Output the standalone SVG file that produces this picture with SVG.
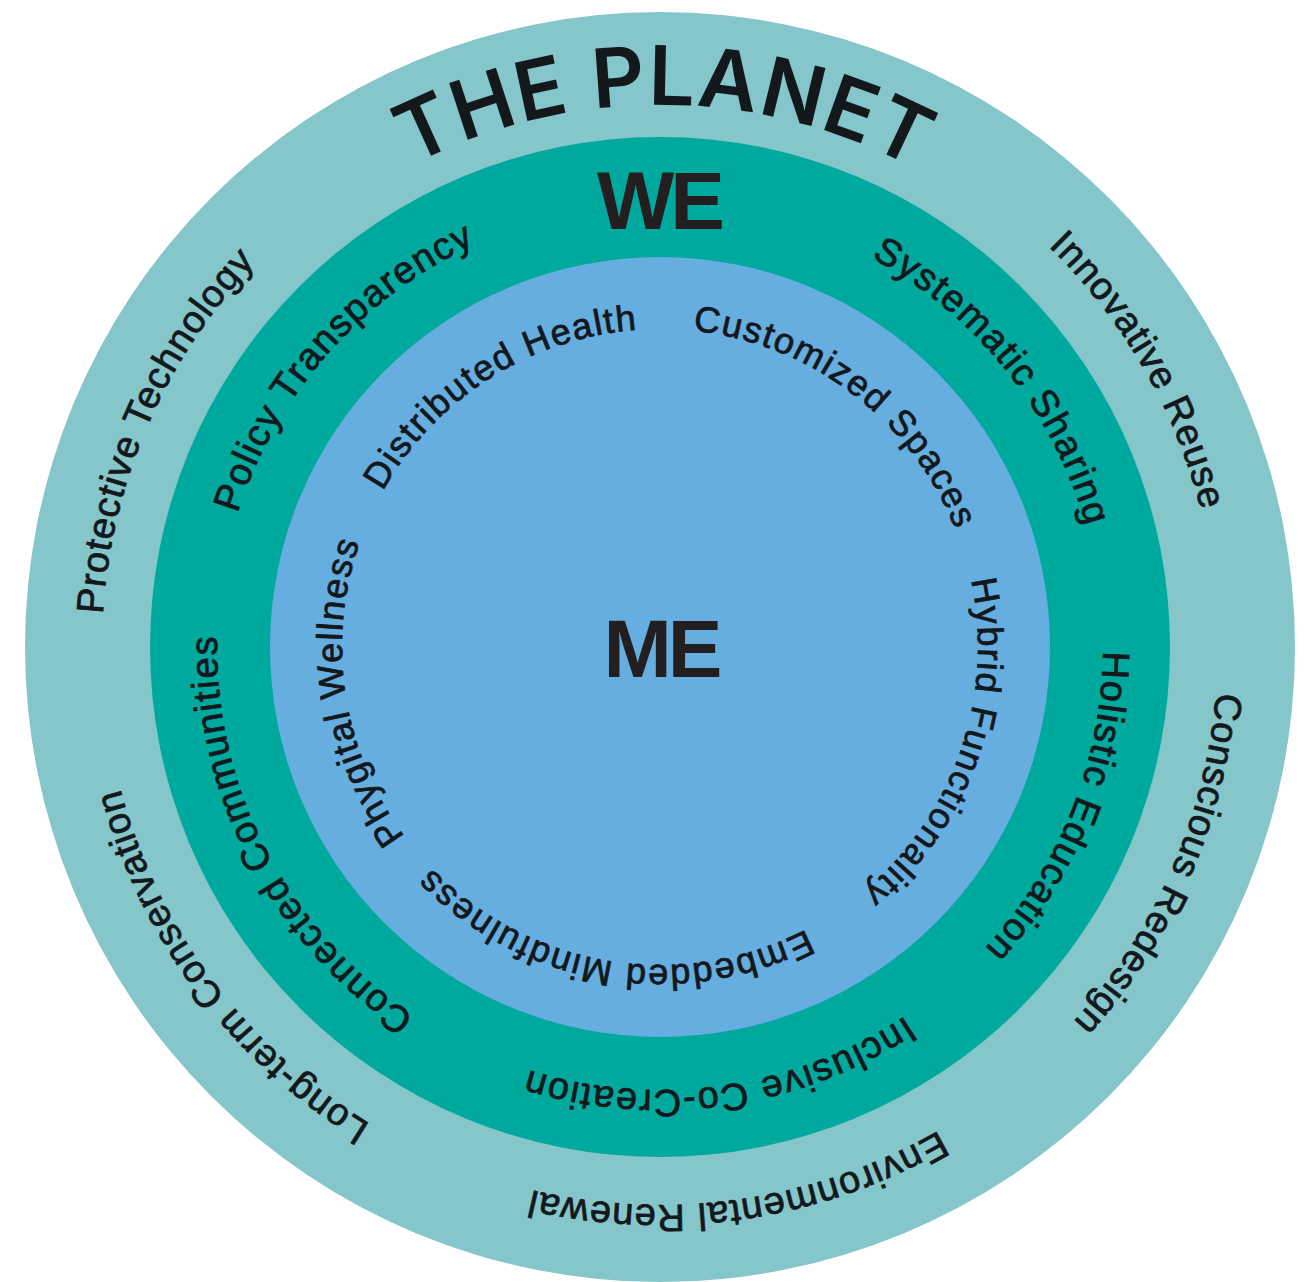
<svg xmlns="http://www.w3.org/2000/svg" xmlns:xlink="http://www.w3.org/1999/xlink" width="1313" height="1282" viewBox="0 0 1313 1282">
  <style>
    .lbl { font-family: "Liberation Sans", Arial, sans-serif; fill: #13181c; stroke: #13181c; stroke-width: 0.8px; }
    .outer { font-size: 38px; letter-spacing: 1px; }
    .mid { font-size: 38px; letter-spacing: 1.5px; }
    .inner { font-size: 36px; letter-spacing: 1.6px; }
    .title { font-family: "Liberation Sans", Arial, sans-serif; font-weight: bold; font-size: 82px; fill: #231f20; letter-spacing: -4px; }
    .planet { font-family: Inter, "Liberation Sans", sans-serif; font-weight: 600; font-size: 82px; fill: #13181c; letter-spacing: 1.5px; }
  </style>
  <defs>
    <!-- Full circles starting at the bottom and running clockwise, so 50% lands at the top -->
    <path id="arcPlanet" d="M660 1189 A542 542 0 0 1 660 105 A542 542 0 0 1 660 1189"/>
    <path id="arcOuter" d="M660 1205 A558 558 0 0 1 660 89 A558 558 0 0 1 660 1205"/>
    <path id="arcMid" d="M660 1090 A443 443 0 0 1 660 204 A443 443 0 0 1 660 1090"/>
    <path id="arcInner" d="M660 965 A318 318 0 0 1 660 329 A318 318 0 0 1 660 965"/>
  </defs>

  <!-- Outer ring: THE PLANET -->
  <g id="planet">
    <circle cx="660" cy="647" r="635" fill="#85c6ca"/>
    <text class="planet" transform="rotate(0.5 660 647)"><textPath xlink:href="#arcPlanet" href="#arcPlanet" startOffset="50%" text-anchor="middle">THE PLANET</textPath></text>
    <text class="lbl outer" transform="rotate(-66.5 660 647)"><textPath xlink:href="#arcOuter" href="#arcOuter" startOffset="50%" text-anchor="middle">Protective Technology</textPath></text>
    <text class="lbl outer" transform="rotate(60 660 647)"><textPath xlink:href="#arcOuter" href="#arcOuter" startOffset="50%" text-anchor="middle">Innovative Reuse</textPath></text>
    <text class="lbl outer" transform="rotate(113.5 660 647)"><textPath xlink:href="#arcOuter" href="#arcOuter" startOffset="50%" text-anchor="middle">Conscious Redesign</textPath></text>
    <text class="lbl outer" transform="rotate(171.7 660 647)"><textPath xlink:href="#arcOuter" href="#arcOuter" startOffset="50%" text-anchor="middle">Environmental Renewal</textPath></text>
    <text class="lbl outer" transform="rotate(233.3 660 647)"><textPath xlink:href="#arcOuter" href="#arcOuter" startOffset="50%" text-anchor="middle">Long-term Conservation</textPath></text>
  </g>

  <!-- Middle ring: WE -->
  <g id="we">
    <circle cx="660" cy="647" r="510" fill="#00a99d"/>
    <text class="title" x="659" y="229" text-anchor="middle">WE</text>
    <text class="lbl mid" transform="rotate(-48.5 660 647)"><textPath xlink:href="#arcMid" href="#arcMid" startOffset="50%" text-anchor="middle">Policy Transparency</textPath></text>
    <text class="lbl mid" transform="rotate(51.4 660 647)"><textPath xlink:href="#arcMid" href="#arcMid" startOffset="50%" text-anchor="middle">Systematic Sharing</textPath></text>
    <text class="lbl mid" transform="rotate(111.8 660 647)"><textPath xlink:href="#arcMid" href="#arcMid" startOffset="50%" text-anchor="middle">Holistic Education</textPath></text>
    <text class="lbl mid" transform="rotate(171.9 660 647)"><textPath xlink:href="#arcMid" href="#arcMid" startOffset="50%" text-anchor="middle">Inclusive Co-Creation</textPath></text>
    <text class="lbl mid" transform="rotate(242.6 660 647)"><textPath xlink:href="#arcMid" href="#arcMid" startOffset="50%" text-anchor="middle">Connected Communities</textPath></text>
  </g>

  <!-- Inner disc: ME -->
  <g id="me">
    <circle cx="660" cy="647" r="390" fill="#66aee0"/>
    <text class="title" x="661" y="677" text-anchor="middle">ME</text>
    <text class="lbl inner" transform="rotate(-32.3 660 647)"><textPath xlink:href="#arcInner" href="#arcInner" startOffset="50%" text-anchor="middle">Distributed Health</textPath></text>
    <text class="lbl inner" transform="rotate(37.2 660 647)"><textPath xlink:href="#arcInner" href="#arcInner" startOffset="50%" text-anchor="middle">Customized Spaces</textPath></text>
    <text class="lbl inner" transform="rotate(109.2 660 647)"><textPath xlink:href="#arcInner" href="#arcInner" startOffset="50%" text-anchor="middle">Hybrid Functionality</textPath></text>
    <text class="lbl inner" transform="rotate(189.4 660 647)"><textPath xlink:href="#arcInner" href="#arcInner" startOffset="50%" text-anchor="middle">Embedded Mindfulness</textPath></text>
    <text class="lbl inner" transform="rotate(261.4 660 647)"><textPath xlink:href="#arcInner" href="#arcInner" startOffset="50%" text-anchor="middle">Phygital Wellness</textPath></text>
  </g>

  <!-- No connectors in this diagram -->
  <g id="connectors"/>
</svg>
